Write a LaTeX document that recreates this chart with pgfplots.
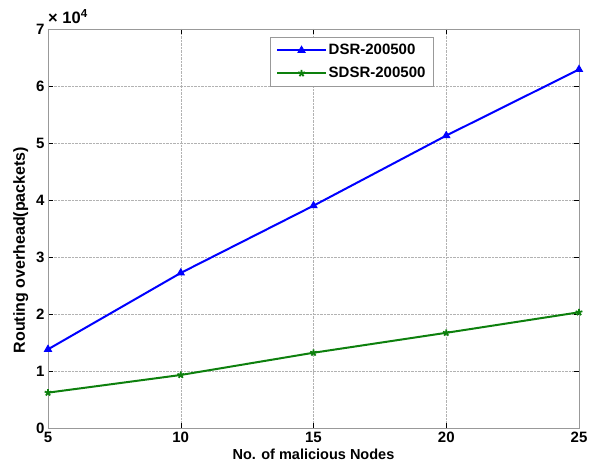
\documentclass[border=0pt]{standalone}
\usepackage{pgfplots}
\pgfplotsset{compat=1.18}
\usepackage{fontspec}
\setmainfont{Liberation Sans}
\definecolor{mblue}{rgb}{0,0,1}
\definecolor{mgreen}{rgb}{0.05,0.5,0.05}
\begin{document}
\begin{tikzpicture}
\begin{axis}[
  scale only axis,
  clip=false,
  width=531pt, height=399pt,
  xmin=5, xmax=25, ymin=0, ymax=70000,
  xtick={5,10,15,20,25},
  ytick={0,10000,20000,30000,40000,50000,60000,70000},
  yticklabels={0,1,2,3,4,5,6,7},
  scaled y ticks=false,
  /pgf/number format/assume math mode=true,
  ticklabel style={font=\fontsize{15}{17}\selectfont\bfseries},
  xticklabel style={yshift=-1pt},
  grid=major,
  grid style={densely dotted, gray!60},
  axis line style={gray!80},
  tick style={black, major tick length=5pt},
  tick align=inside,
  xlabel={No. of malicious Nodes},
  ylabel={Routing overhead(packets)},
  xlabel style={font=\fontsize{14.5}{16}\selectfont\bfseries, yshift=1pt},
  ylabel style={font=\fontsize{16}{18}\selectfont\bfseries, at={(ticklabel cs:0.446)}, yshift=1pt},
  legend style={at={(0.418,0.98)}, anchor=north west, draw=gray!80, line width=0.8pt,
    font=\fontsize{15}{18}\selectfont\bfseries, inner xsep=6pt, inner ysep=5pt,
    row sep=7pt, cells={anchor=west}},
  legend image code/.code={\draw[#1, line width=2pt] (0cm,0cm) -- (1.7cm,0cm); \draw[#1, only marks] plot coordinates {(0.85cm,0cm)};},
]
\addplot[color=mblue, line width=2pt, mark=triangle*, mark size=4pt, mark options={line width=1pt}] coordinates {
  (5,13800) (10,27200) (15,39000) (20,51300) (25,62900)};
\addlegendentry{DSR-200500}
\addplot[color=mgreen, line width=2pt, mark=star, mark size=3.5pt, mark options={line width=1.8pt}] coordinates {
  (5,6200) (10,9300) (15,13200) (20,16700) (25,20300)};
\addlegendentry{SDSR-200500}
\node[anchor=south west, inner sep=0pt, font=\fontsize{16.5}{18}\selectfont\bfseries] at (rel axis cs:0,1) [yshift=5pt] {× 10\textsuperscript{4}};
\end{axis}
\path ([xshift=-48pt,yshift=-38pt]current axis.south west) rectangle ([xshift=18pt,yshift=29pt]current axis.north east);
\end{tikzpicture}
\end{document}
